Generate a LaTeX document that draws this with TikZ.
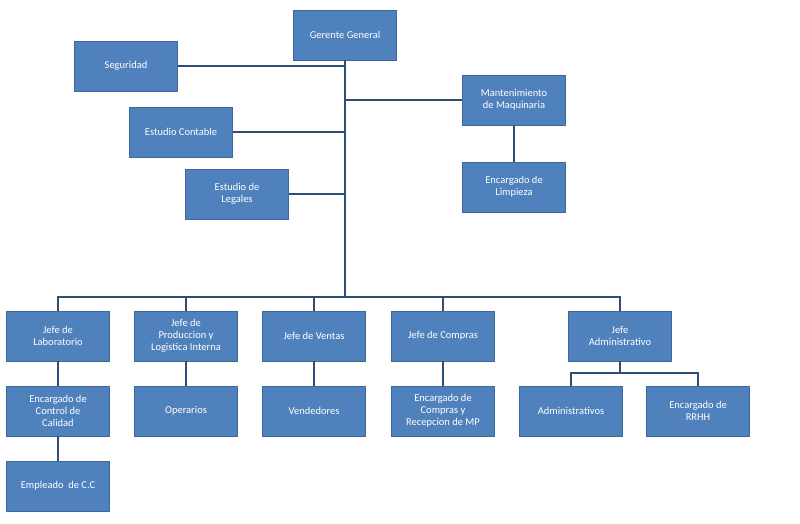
\documentclass[tikz,border=0pt]{standalone}
\usepackage{fontspec}
\setmainfont{Carlito}
\definecolor{boxblue}{HTML}{4F81BD}
\definecolor{lineblue}{HTML}{2E4F7A}
\begin{document}
\begin{tikzpicture}[x=1pt, y=-1pt, thick,
 unit/.style={fill=boxblue, draw=boxblue!80!black, text=white, minimum width=103pt,
   minimum height=50pt, align=center, font=\fontsize{10.5}{12}\selectfont, inner sep=2pt},
 link/.style={draw=lineblue, line width=1.4pt}]
  \useasboundingbox (0,0) rectangle (800,523);

  \node[unit] (gg) at (345,35) {Gerente General};
  \node[unit] (seg) at (126,66) {Seguridad};
  \node[unit] (mant) at (514,100) {Mantenimiento\\de Maquinaria};
  \node[unit] (cont) at (181,132) {Estudio Contable};
  \node[unit] (limp) at (514,187) {Encargado de\\Limpieza};
  \node[unit] (leg) at (237,194) {Estudio de\\Legales};

  \node[unit] (lab) at (58,336) {Jefe de\\Laboratorio};
  \node[unit] (prod) at (186,336) {Jefe de\\Produccion y\\Logistica Interna};
  \node[unit] (vent) at (314,336) {Jefe de Ventas};
  \node[unit] (comp) at (443,336) {Jefe de Compras};
  \node[unit] (adm) at (620,336) {Jefe\\Administrativo};

  \node[unit] (cal) at (58,411) {Encargado de\\Control de\\Calidad};
  \node[unit] (oper) at (186,411) {Operarios};
  \node[unit] (vend) at (314,411) {Vendedores};
  \node[unit] (recmp) at (443,411) {Encargado de\\Compras y\\Recepcion de MP};
  \node[unit] (admv) at (571,411) {Administrativos};
  \node[unit] (rrhh) at (698,411) {Encargado de\\RRHH};
  \node[unit] (emp) at (58,486) {Empleado\ \ de C.C};

  \coordinate (bus) at (345,297);
  \path[link] (gg.south) -- (bus);
  \path[link] (lab.north) |- (bus) -| (adm.north);
  \foreach \t in {prod, vent, comp} {
   \path[link] (\t.north) -- (\t.north |- bus);}
  \foreach \s in {seg, cont, leg} {
   \path[link] (\s.east) -- (\s.east -| bus);}
  \path[link] (mant.west) -- (mant.west -| bus);
  \path[link] (mant) -- (limp);
  \foreach \s/\t in {lab/cal, cal/emp, prod/oper, vent/vend, comp/recmp} {
   \path[link] (\s) -- (\t);}
  \coordinate (split) at (620,373);
  \path[link] (adm.south) -- (split);
  \path[link] (admv.north) |- (split) -| (rrhh.north);
\end{tikzpicture}
\end{document}
